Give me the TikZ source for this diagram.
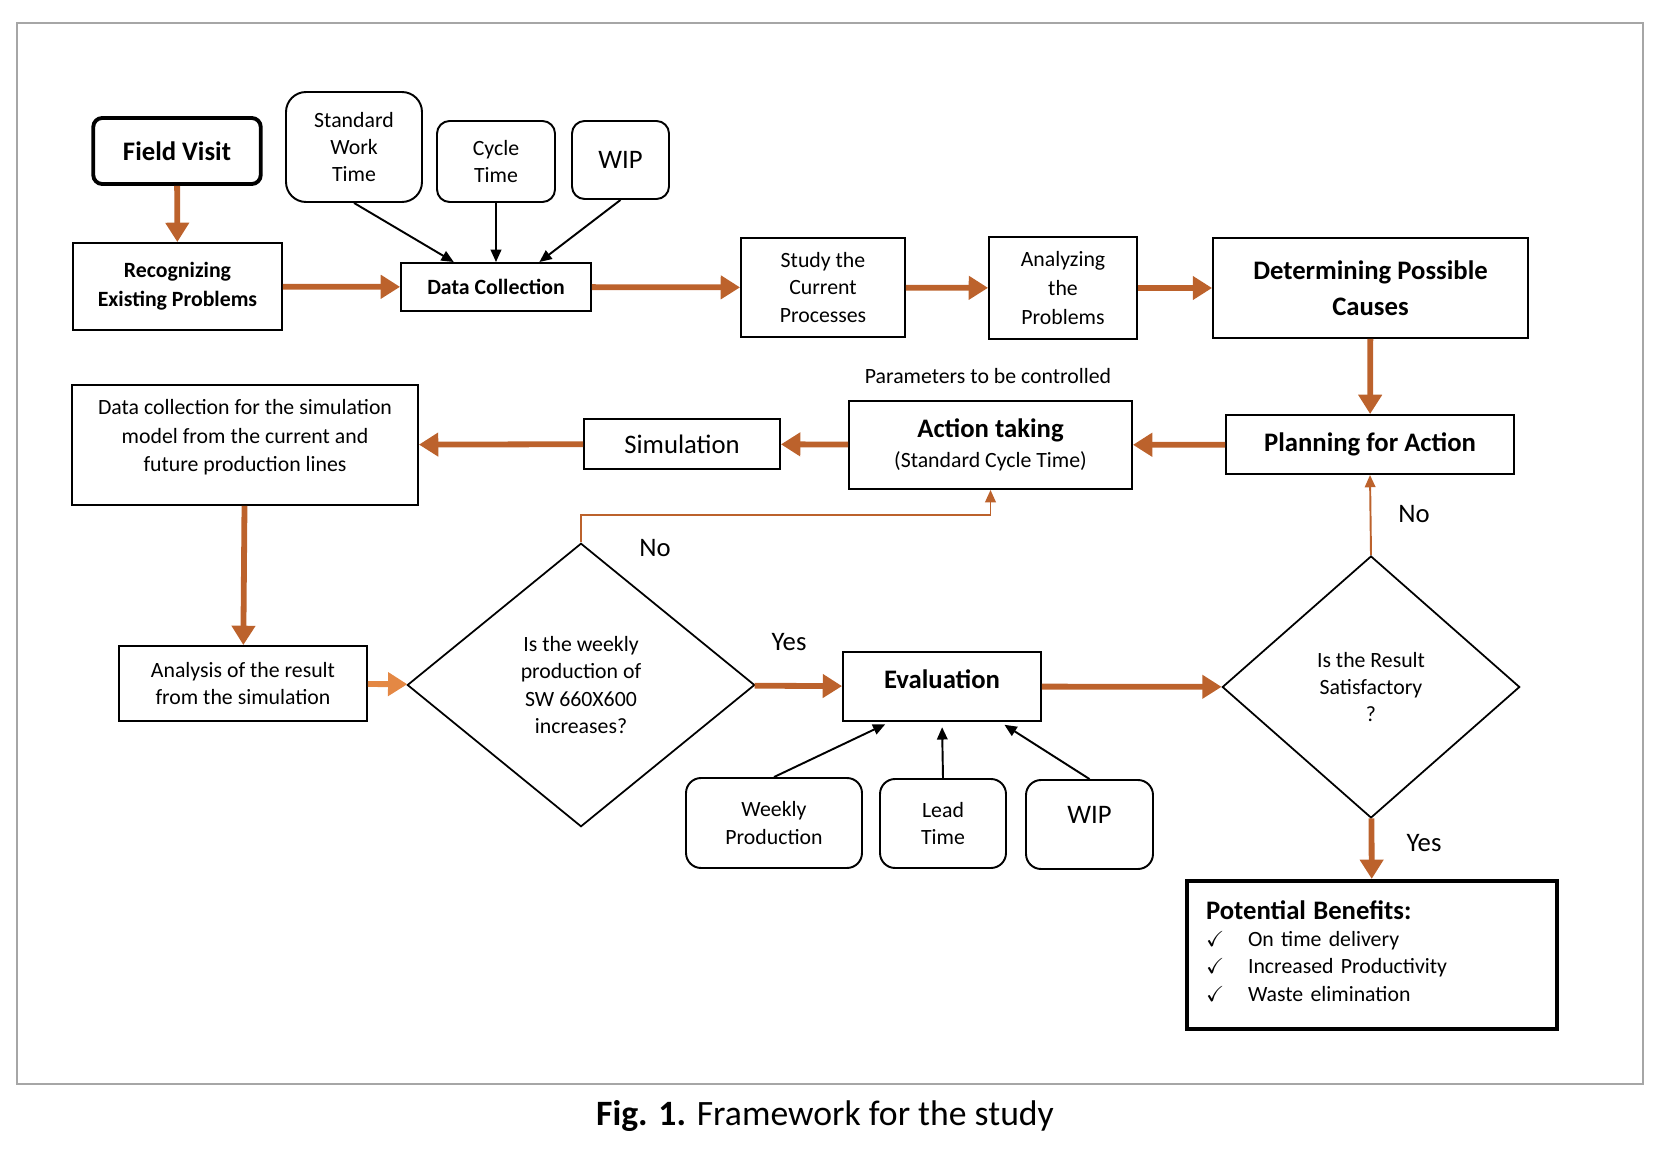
\documentclass[tikz,border=0pt]{standalone}
\usepackage{fontspec}
\setmainfont{Carlito}
\usepackage{amssymb}
\usetikzlibrary{arrows.meta,shapes.geometric,calc}

\definecolor{flowc}{RGB}{188,98,44}
\definecolor{flowl}{RGB}{228,136,68}
\newcommand{\fs}{\fontsize{12.4}{15.4}\selectfont}
\newcommand{\fb}{\fontsize{15.2}{20.5}\selectfont}

\begin{document}
\begin{tikzpicture}[x=0.02cm, y=-0.02cm, font=\fs,
    >={Triangle[length=7pt,width=6pt]},
    box/.style={draw, line width=1.1pt, align=center, inner sep=2pt},
    rbox/.style={box, rounded corners=0.3cm},
    dia/.style={draw, diamond, line width=1pt, align=center, inner sep=0pt},
    flow/.style={-{Triangle[length=11pt,width=13pt]}, line width=3.3pt, color=flowc},
    loop/.style={->, line width=1.1pt, color=flowc},
    link/.style={->, line width=1.1pt}]

\useasboundingbox (0,0) rectangle (1666,1158);
\draw[gray!70, line width=0.8pt] (17,23) rectangle (1643,1084);

% Top row
\node[rbox, line width=2.2pt, rounded corners=0.18cm, minimum width=3.35cm, minimum height=1.32cm, font=\fb\bfseries] (visit) at (177,151) {Field Visit};
\node[rbox, rounded corners=0.4cm, minimum width=2.72cm, minimum height=2.2cm] (swt) at (354,147) {Standard\\Work\\Time};
\node[rbox, rounded corners=0.25cm, minimum width=2.36cm, minimum height=1.62cm] (cycle) at (496,161.5) {Cycle\\Time};
\node[rbox, rounded corners=0.25cm, minimum width=1.94cm, minimum height=1.56cm, font=\fb] (wip1) at (620.5,160) {WIP};

\node[box, minimum width=4.18cm, minimum height=1.74cm, font=\fontsize{12.4}{16.3}\selectfont\bfseries] (recog) at (177.5,286.5) {Recognizing\\Existing Problems};
\node[box, minimum width=3.8cm, minimum height=0.96cm, font=\fs\bfseries] (datacol) at (496,287) {Data Collection};
\node[box, minimum width=3.28cm, minimum height=1.98cm] (study) at (823,287.5) {Study the\\Current\\Processes};
\node[box, minimum width=2.96cm, minimum height=2.04cm, font=\fontsize{12.4}{16.3}\selectfont] (analyz) at (1063,288) {Analyzing\\the\\Problems};
\node[box, minimum width=6.3cm, minimum height=2.0cm, font=\fb\bfseries] (causes) at (1370.5,288) {Determining Possible\\Causes};

% Middle row
\node[box, minimum width=5.76cm, minimum height=1.18cm, font=\fb\bfseries] (plan) at (1370,444.5) {Planning for Action};
\node[box, minimum width=5.66cm, minimum height=1.76cm, font=\fontsize{12.4}{17}\selectfont] (action) at (990.5,445) {{\fb\bfseries Action taking}\\(Standard Cycle Time)};
\node (param) at (988,376) {Parameters to be controlled};
\node[box, minimum width=3.92cm, minimum height=1.0cm, font=\fb] (simul) at (682,444) {Simulation};
\node[box, minimum width=6.92cm, minimum height=2.4cm,
  label={[align=center, font=\fontsize{12.4}{16.3}\selectfont, yshift=0.15cm]center:Data collection for the simulation\\model from the current and\\future production lines}] (simdata) at (245,445) {};

% Bottom row
\node[box, minimum width=4.96cm, minimum height=1.5cm, font=\fontsize{12.4}{15.7}\selectfont] (analys) at (243,683.5) {Analysis of the result\\from the simulation};
\node[dia, minimum width=6.95cm, minimum height=5.67cm] (weekly) at (581,685) {Is the weekly\\production of\\SW 660X600\\increases?};
\node[box, minimum width=3.96cm, minimum height=1.38cm,
  label={[font=\fb\bfseries, yshift=0.14cm]center:Evaluation}] (eval) at (942,686.5) {};
\node[rbox, minimum width=3.52cm, minimum height=1.8cm] (wprod) at (774,823) {Weekly\\Production};
\node[rbox, minimum width=2.52cm, minimum height=1.78cm] (lead) at (943,823.5) {Lead\\Time};
\node[rbox, minimum width=2.54cm, minimum height=1.78cm,
  label={[font=\fb, yshift=0.19cm]center:WIP}] (wip2) at (1089.5,824.5) {};
\node[dia, minimum width=5.95cm, minimum height=5.24cm] (result) at (1371,687) {Is the Result\\Satisfactory\\?};
\node[box, line width=2.4pt, minimum width=7.4cm, minimum height=2.96cm, inner sep=0.38cm, text width=6.64cm, align=left] (benef) at (1372,955)
  {\begin{tabular}{@{}l@{}}
   {\fb\bfseries Potential Benefits:}\\
   \makebox[0.84cm][l]{$\checkmark$}On time delivery\\
   \makebox[0.84cm][l]{$\checkmark$}Increased Productivity\\
   \makebox[0.84cm][l]{$\checkmark$}Waste elimination
   \end{tabular}};

% Yes / No labels
\node[font=\fb] (no1) at (655,548) {No};
\node[font=\fb] (yes1) at (789,642) {Yes};
\node[font=\fb] (no2) at (1414,514) {No};
\node[font=\fb] (yes2) at (1424,843) {Yes};

\node[font=\fontsize{20.3}{24}\selectfont] (caption) at (825,1116) {\textbf{Fig. 1.} Framework for the study};

% Main flow
\draw[flow] (visit) -- (recog);
\draw[flow] (recog) -- (datacol);
\draw[flow] (datacol) -- (study);
\draw[flow] (study) -- (analyz);
\draw[flow] (analyz) -- (causes);
\draw[flow] (causes) -- (plan);
\draw[flow] (plan) -- (action);
\draw[flow] (action) -- (simul);
\draw[flow] (simul) -- (simdata);
\draw[flow] (simdata) -- (analys);
\draw[flow, color=flowl] (analys) -- (weekly);
\draw[flow] (weekly) -- (eval);
\draw[flow] (eval) -- (result);
\draw[flow] (result) -- (benef);

% Feedback (No)
\draw[loop] (weekly.north) -- ++(0,-27) -| (action.south);
\draw[loop] (result.north) -- (plan.south);

% Inputs
\draw[link] (swt.south) -- ($(datacol.north west)!0.28!(datacol.north east)$);
\draw[link] (cycle.south) -- (datacol.north);
\draw[link] (wip1.south) -- ($(datacol.north west)!0.726!(datacol.north east)$);
\draw[link, shorten >=3pt] (wprod.north) -- ($(eval.south west)!0.24!(eval.south east)$);
\draw[link, shorten >=3pt] (lead.north) -- (eval.south);
\draw[link, shorten >=3pt] (wip2.north) -- ($(eval.south west)!0.79!(eval.south east)$);

\end{tikzpicture}
\end{document}
